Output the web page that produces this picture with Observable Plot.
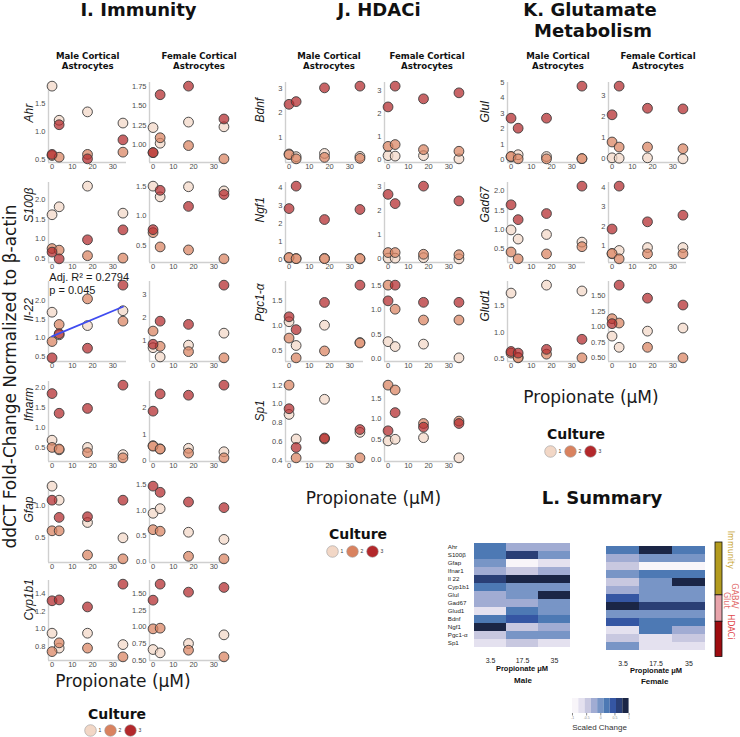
<!DOCTYPE html>
<html><head><meta charset="utf-8">
<script src="https://cdn.jsdelivr.net/npm/d3@7"></script>
<script src="https://cdn.jsdelivr.net/npm/@observablehq/plot@0.6"></script>
<style>
body{margin:0;background:#fff;}
#root{position:relative;width:740px;height:737px;overflow:hidden;background:#fff;}
</style></head><body><div id="root"></div>
<script>
// ---------------- DATA ----------------
const doses = [0, 3.5, 17.5, 35];
const cultures = ["1", "2", "3"];
const doseTicks = ["0", "10", "20", "30"];
// each gene: [culture1, culture2, culture3], values at doses 0, 3.5, 17.5, 35 µM

// I. Immunity
const ahrMale = [[1.82,1.21,1.36,1.16],[0.58,0.55,0.60,0.64],[0.60,1.13,0.52,0.86]];
const ahrFemale = [[1.22,1.02,1.29,1.23],[0.90,1.09,0.99,0.82],[0.90,1.64,1.75,1.33]];
const s100bMale = [[1.61,1.81,2.33,1.65],[0.76,0.72,0.58,0.52],[0.67,0.50,0.98,1.23]];
const s100bFemale = [[1.50,1.32,1.49,1.42],[0.72,0.48,0.43,0.28],[0.77,1.43,1.16,1.36]];
const il22Male = [[1.69,1.08,1.33,1.73],[0.90,1.36,2.05,1.45],[0.46,1.11,0.72,2.42]];
const il22Female = [[0.71,0.31,0.82,1.34],[1.43,0.77,0.54,0.27],[0.86,1.86,1.72,3.42]];
const ifnarmMale = [[0.68,0.44,0.50,0.32],[0.50,0.46,0.37,0.24],[1.84,1.35,1.47,2.05]];
const ifnarmFemale = [[0.57,0.45,0.47,0.34],[0.55,0.44,0.29,0.11],[1.87,2.52,2.47,2.85]];
const gfapMale = [[1.31,1.09,0.74,0.50],[0.61,0.61,0.23,0.17],[1.09,0.82,0.83,1.09]];
const gfapFemale = [[0.94,1.03,0.57,0.43],[0.62,0.59,0.10,0.05],[1.47,1.35,1.16,1.05]];
const cyp1b1Male = [[0.95,0.78,0.95,0.82],[0.74,0.84,0.78,0.68],[1.32,1.33,1.25,1.51]];
const cyp1b1Female = [[0.66,0.61,0.75,0.88],[0.97,0.98,0.65,0.55],[1.40,1.64,1.52,1.59]];
// J. HDACi
const bdnfMale = [[0.33,0.22,0.35,0.23],[0.30,0.13,0.19,0.15],[2.35,2.46,3.02,3.09]];
const bdnfFemale = [[0.18,0.16,0.18,0.04],[0.58,0.66,0.44,0.37],[2.29,3.19,2.64,2.90]];
const ngf1Male = [[0.10,0.07,0.08,0.05],[0.13,0.06,0.06,0.07],[2.85,4.10,2.24,2.80]];
const ngf1Female = [[0.03,0.03,0.05,0.00],[0.26,0.26,0.19,0.17],[2.66,2.28,3.00,2.39]];
const pgc1aMale = [[1.08,0.60,1.01,0.66],[0.75,0.35,0.49,0.65],[1.18,0.92,1.47,1.82]];
const pgc1aFemale = [[0.35,0.25,0.30,0.02],[1.50,1.01,0.79,0.79],[1.18,1.50,1.15,1.15]];
const sp1Male = [[0.89,0.63,1.05,0.70],[1.20,0.43,0.63,0.43],[0.95,0.54,0.64,0.73]];
const sp1Female = [[0.46,0.50,0.54,0.04],[1.84,1.72,0.89,0.95],[0.71,1.16,0.80,0.89]];
// K. Glutamate metabolism
const glulMale = [[0.18,0.32,0.20,0.06],[0.21,0.05,0.05,0.07],[2.69,2.04,2.69,4.77]];
const glulFemale = [[0.05,0.03,0.05,0.00],[0.80,0.56,0.56,0.48],[2.09,3.45,2.40,2.37]];
const gad67Male = [[0.98,0.74,0.86,0.66],[0.40,0.22,0.35,0.54],[1.64,1.25,1.41,2.13]];
const gad67Female = [[0.58,0.75,0.90,0.90],[0.60,0.32,0.58,0.58],[1.85,4.05,2.22,2.56]];
const glud1Male = [[1.74,0.53,1.89,1.78],[0.61,0.52,0.59,0.52],[0.64,0.61,0.68,0.87]];
const glud1Female = [[0.85,0.67,0.93,0.98],[1.13,1.06,0.67,0.50],[1.05,1.67,1.46,1.35]];

// y tick labels
const ahrMaleTicks = ["0.5","1.0","1.5"];
const ahrFemaleTicks = ["1.00","1.25","1.50","1.75"];
const s100bMaleTicks = ["0.5","1.0","1.5","2.0"];
const s100bFemaleTicks = ["0.5","1.0","1.5"];
const il22MaleTicks = ["0.5","1.0","1.5","2.0"];
const il22FemaleTicks = ["1","2","3"];
const ifnarmMaleTicks = ["0.5","1.0","1.5","2.0"];
const ifnarmFemaleTicks = ["0","1","2","3"];
const gfapMaleTicks = ["0.5","1.0"];
const gfapFemaleTicks = ["0.0","0.5","1.0","1.5"];
const cyp1b1MaleTicks = ["0.8","1.0","1.2","1.4"];
const cyp1b1FemaleTicks = ["0.50","0.75","1.00","1.25","1.50"];
const bdnfMaleTicks = ["1","2","3"];
const bdnfFemaleTicks = ["0","1","2","3"];
const ngf1MaleTicks = ["0","1","2","3","4"];
const ngf1FemaleTicks = ["0","1","2","3"];
const pgc1aMaleTicks = ["0.5","1.0","1.5"];
const pgc1aFemaleTicks = ["0.0","0.5","1.0","1.5"];
const sp1MaleTicks = ["0.4","0.6","0.8","1.0","1.2"];
const sp1FemaleTicks = ["0.0","0.5","1.0","1.5"];
const glulMaleTicks = ["0","1","2","3","4","5"];
const glulFemaleTicks = ["0","1","2","3"];
const gad67MaleTicks = ["0.5","1.0","1.5","2.0"];
const gad67FemaleTicks = ["1","2","3","4"];
const glud1MaleTicks = ["0.5","1.0","1.5"];
const glud1FemaleTicks = ["0.50","0.75","1.00","1.25","1.50"];

const fitNote = ["Adj. R\u00b2 = 0.2794", "p = 0.045"];

// L. Summary heatmap (scaled change level 1..9)
const summaryGenes = ["Ahr","S100\u03b2","Gfap","Ifnar1","Il 22","Cyp1b1","Glul","Gad67","Glud1","Bdnf","Ngf1","Pgc1-\u03b1","Sp1"];
const summaryDoses = ["3.5","17.5","35"];
const maleLevels = [[6,4,4],[6,8,5],[5,1,2],[4,3,4],[8,9,9],[6,5,5],[4,5,9],[4,4,5],[2,6,5],[6,7,6],[9,3,4],[3,5,5],[2,3,2]];
const femaleLevels = [[6,9,6],[4,5,5],[3,1,1],[5,6,6],[3,5,9],[4,5,5],[7,5,5],[9,8,8],[5,5,5],[7,6,6],[2,6,4],[3,2,3],[5,2,2]];
const scaleLevels = [1,2,3,4,5,6,7,8,9];
const scaleTickLabels = ["-1","-0.5","0","0.5","1"];
const groupNames = ["Immunity","GABA/\nGlut","HDACi"];
const groupSizes = [6,3,4];

// ---------------- STYLE ----------------
const cultureFill = ["#f2d7c6", "#d9825f", "#b3282b"];
const blues = ["#f8f5f9","#e4e1ef","#c8c8e0","#a1acd3","#7895c6","#4d79b4","#3556a3","#2a3f76","#1b2646"];
const groupFill = ["#b39b1f","#e8a4ab","#9e0c10"];
const groupText = ["#c9a634","#e26a6a","#e04a4c"];
const AXIS_COLOR = "#cfcfcf";
const SANS = "'Liberation Sans', Arial, sans-serif";
const VERD = "'DejaVu Sans', Verdana, sans-serif";

const root = document.getElementById("root");
function place(el, left, top) {
  el.style.position = "absolute";
  el.style.left = left + "px";
  el.style.top = top + "px";
  root.appendChild(el);
}

// ---------------- SCATTER PANELS ----------------
const AXX = {imm: [48, 149], hd: [285, 384], gl: [507, 608]};
const ROWB = [162, 261.5, 361, 460.5, 562, 660];
const LABEL_DX = {imm: -19.5, hd: -25, gl: -22};
const FW = 78, FH = 80, ML = 40, MR = 8, MT = 6, MB = 14;

const panels = [
  {col:"imm", row:0, gene:"Ahr", m: ahrMale, mt: ahrMaleTicks, f: ahrFemale, ft: ahrFemaleTicks},
  {col:"imm", row:1, gene:"S100\u03b2", m: s100bMale, mt: s100bMaleTicks, f: s100bFemale, ft: s100bFemaleTicks},
  {col:"imm", row:2, gene:"Il-22", m: il22Male, mt: il22MaleTicks, f: il22Female, ft: il22FemaleTicks, fitMale: true},
  {col:"imm", row:3, gene:"Ifnarm", m: ifnarmMale, mt: ifnarmMaleTicks, f: ifnarmFemale, ft: ifnarmFemaleTicks},
  {col:"imm", row:4, gene:"Gfap", m: gfapMale, mt: gfapMaleTicks, f: gfapFemale, ft: gfapFemaleTicks},
  {col:"imm", row:5, gene:"Cyp1b1", m: cyp1b1Male, mt: cyp1b1MaleTicks, f: cyp1b1Female, ft: cyp1b1FemaleTicks},
  {col:"hd", row:0, gene:"Bdnf", m: bdnfMale, mt: bdnfMaleTicks, f: bdnfFemale, ft: bdnfFemaleTicks},
  {col:"hd", row:1, gene:"Ngf1", m: ngf1Male, mt: ngf1MaleTicks, f: ngf1Female, ft: ngf1FemaleTicks},
  {col:"hd", row:2, gene:"Pgc1-\u03b1", m: pgc1aMale, mt: pgc1aMaleTicks, f: pgc1aFemale, ft: pgc1aFemaleTicks},
  {col:"hd", row:3, gene:"Sp1", m: sp1Male, mt: sp1MaleTicks, f: sp1Female, ft: sp1FemaleTicks},
  {col:"gl", row:0, gene:"Glul", m: glulMale, mt: glulMaleTicks, f: glulFemale, ft: glulFemaleTicks},
  {col:"gl", row:1, gene:"Gad67", m: gad67Male, mt: gad67MaleTicks, f: gad67Female, ft: gad67FemaleTicks},
  {col:"gl", row:2, gene:"Glud1", m: glud1Male, mt: glud1MaleTicks, f: glud1Female, ft: glud1FemaleTicks}
];

function scatter(values, ticks, gene, col, fit) {
  const rows = values.flatMap((arr, ci) => arr.map((v, di) => ({dose: doses[di], culture: cultures[ci], value: v})));
  const [y0, y1] = d3.extent(rows, d => d.value);
  const yPad = (y1 - y0) * 0.05;
  const yDom = [y0 - yPad, y1 + yPad];
  const [x0, x1] = d3.extent(doses);
  const xPad = (x1 - x0) * 0.05;
  const xDom = [x0 - xPad, x1 + xPad];
  const labelOf = new Map(ticks.map(s => [+s, s]));
  const yTicks = ticks.map(Number).filter(t => t >= yDom[0] && t <= yDom[1]);
  const marks = [
    Plot.ruleX([xDom[0]], {stroke: AXIS_COLOR, strokeWidth: 1.4}),
    Plot.ruleY([yDom[0]], {stroke: AXIS_COLOR, strokeWidth: 1.4}),
    Plot.dot(rows, {x: "dose", y: "value", fill: "culture", fillOpacity: 0.72, stroke: "#3c3c3c", strokeWidth: 0.9, r: 4.9})
  ];
  if (fit) marks.push(Plot.linearRegressionY(rows, {x: "dose", y: "value", stroke: "#3f4cf0", strokeWidth: 1.8, ci: 0}));
  if (gene) marks.push(Plot.text([gene], {text: d => d, frameAnchor: "left", rotate: -90, dx: LABEL_DX[col],
    fontSize: 12, fontStyle: "italic", fontFamily: SANS, fill: "#1a1a1a"}));
  return Plot.plot({
    width: ML + FW + MR, height: MT + FH + MB,
    marginLeft: ML, marginRight: MR, marginTop: MT, marginBottom: MB,
    style: {background: "transparent", overflow: "visible", fontFamily: SANS, fontSize: "7.5px", color: "#4d4d4d"},
    x: {domain: xDom, ticks: doseTicks.map(Number), tickFormat: d => String(d), tickSize: 0, tickPadding: 1.5, label: null},
    y: {domain: yDom, ticks: yTicks, tickFormat: d => labelOf.get(d), tickSize: 0, tickPadding: 3, label: null},
    color: {type: "ordinal", domain: cultures, range: cultureFill},
    marks
  });
}

for (const p of panels) {
  const top = ROWB[p.row] - FH - MT;
  place(scatter(p.m, p.mt, p.gene, p.col, p.fitMale), AXX[p.col][0] - ML, top);
  place(scatter(p.f, p.ft, null, p.col, false), AXX[p.col][1] - ML, top);
}

// ---------------- CULTURE LEGENDS ----------------
function cultureLegend(cx0, cy) {
  const svg = Plot.plot({
    width: 8 + 40 + 16, height: 16, marginLeft: 8, marginRight: 16, marginTop: 8, marginBottom: 8,
    style: {background: "transparent", overflow: "visible", fontFamily: SANS, fontSize: "5px", color: "#333"},
    x: {type: "point", domain: cultures, padding: 0, axis: null},
    color: {type: "ordinal", domain: cultures, range: cultureFill},
    marks: [
      Plot.dot(cultures, {x: d => d, fill: d => d, r: 5.8, stroke: "#9a9a9a", strokeWidth: 0.6}),
      Plot.text(cultures, {x: d => d, text: d => d, dx: 9.5, fontSize: 5, fill: "#333"})
    ]
  });
  place(svg, cx0 - 8, cy - 8);
}
cultureLegend(90, 730);
cultureLegend(331.7, 551);
cultureLegend(549.7, 451);

// ---------------- HEATMAPS ----------------
function heatmap(levels, frameLeft, frameTop, frameW, frameH, withLabels) {
  const cells = levels.flatMap((row, gi) => row.map((lv, di) => ({gene: summaryGenes[gi], dose: summaryDoses[di], level: lv})));
  const hl = withLabels ? 31.7 : 2;
  const marks = [Plot.cell(cells, {x: "dose", y: "gene", fill: "level"})];
  if (withLabels) marks.push(Plot.text(summaryGenes, {y: d => d, text: d => d, frameAnchor: "left", textAnchor: "start",
    dx: -25.4, fontSize: 6.2, fill: "#222"}));
  const svg = Plot.plot({
    width: hl + frameW + 2, height: frameH + 14, marginLeft: hl, marginRight: 2, marginTop: 0, marginBottom: 14,
    style: {background: "transparent", overflow: "visible", fontFamily: SANS, fontSize: "7px", color: "#222"},
    x: {type: "band", domain: summaryDoses, padding: 0, tickSize: 0, tickPadding: 5, label: null},
    y: {type: "band", domain: summaryGenes, padding: 0, axis: null},
    color: {type: "ordinal", domain: scaleLevels, range: blues},
    marks
  });
  place(svg, frameLeft - hl, frameTop);
}
heatmap(maleLevels, 472.7, 538.3, 98.3, 114.4, true);
heatmap(femaleLevels, 606, 540.5, 99, 114.5, false);

// group side bar
{
  let acc = 0;
  const groups = groupNames.map((name, i) => { const g = {name, start: acc, end: acc + groupSizes[i]}; acc += groupSizes[i]; return g; });
  const total = acc;
  const marks = [Plot.rect(groups, {y1: "start", y2: "end", fill: "name", stroke: "#111", strokeWidth: 0.8})];
  groups.forEach((g, i) => marks.push(Plot.text([g], {y: d => (d.start + d.end) / 2, text: "name", frameAnchor: "right",
    rotate: 90, dx: 8, fontSize: 8, lineHeight: 1.05, fill: groupText[i], fontFamily: VERD})));
  const svg = Plot.plot({
    width: 7 + 26, height: 114.5, marginLeft: 0, marginRight: 26, marginTop: 0, marginBottom: 0,
    style: {background: "transparent", overflow: "visible", fontFamily: VERD},
    x: {domain: [0, 1], axis: null},
    y: {domain: [0, total], reverse: true, axis: null},
    color: {type: "ordinal", domain: groupNames, range: groupFill},
    marks
  });
  place(svg, 715, 541.5);
}

// scaled change legend
{
  const lo = +scaleTickLabels[0], hi = +scaleTickLabels[scaleTickLabels.length - 1];
  const step = (hi - lo) / scaleLevels.length;
  const bins = scaleLevels.map((lv, i) => ({lv, x1: lo + i * step, x2: lo + (i + 1) * step}));
  const labelOf = new Map(scaleTickLabels.map(s => [+s, s]));
  const svg = Plot.plot({
    width: 56.6, height: 15 + 9, marginLeft: 0, marginRight: 0, marginTop: 0, marginBottom: 9,
    style: {background: "transparent", overflow: "visible", fontFamily: SANS, fontSize: "3.5px", color: "#888"},
    x: {domain: [lo, hi], ticks: scaleTickLabels.map(Number), tickFormat: d => labelOf.get(d), tickSize: 2.5, tickPadding: 1, label: null},
    y: {axis: null},
    color: {type: "ordinal", domain: scaleLevels, range: blues},
    marks: [Plot.rect(bins, {x1: "x1", x2: "x2", fill: "lv"})]
  });
  place(svg, 571.7, 698.3);
}

// ---------------- TEXT OVERLAY ----------------
const ns = "http://www.w3.org/2000/svg";
const ov = document.createElementNS(ns, "svg");
ov.setAttribute("width", 740); ov.setAttribute("height", 737);
ov.style.cssText = "position:absolute;left:0;top:0;pointer-events:none;overflow:visible";
root.appendChild(ov);
function T(x, y, str, o = {}) {
  const t = document.createElementNS(ns, "text");
  t.setAttribute("x", o.rot ? 0 : x); t.setAttribute("y", o.rot ? 0 : y);
  if (o.rot) t.setAttribute("transform", `translate(${x},${y}) rotate(${o.rot})`);
  t.setAttribute("text-anchor", o.anchor || "middle");
  t.setAttribute("font-family", o.family || VERD);
  t.setAttribute("font-size", o.size || 10);
  t.setAttribute("font-weight", o.weight || "normal");
  t.setAttribute("fill", o.fill || "#111");
  t.textContent = str;
  ov.appendChild(t);
}
const B = {size: 18, weight: "bold"};
T(138.5, 16, "I. Immunity", B);
T(379, 16, "J. HDACi", B);
T(590, 16, "K. Glutamate", B);
T(593, 37, "Metabolism", B);
T(602, 504, "L. Summary", B);
const H = {size: 8.6, weight: "bold"};
[[87.7, "Male"], [199, "Female"], [329, "Male"], [427, "Female"], [558, "Male"], [658, "Female"]].forEach(([cx, s]) => {
  T(cx, 59, s + " Cortical", H);
  T(cx, 69, "Astrocytes", H);
});
T(16, 376.5, "ddCT Fold-Change Normalized to \u03b2-actin", {size: 17, rot: -90, fill: "#1a1a1a"});
T(123, 686.5, "Propionate (\u03bcM)", {size: 17, fill: "#1a1a1a"});
T(373.5, 504, "Propionate (\u03bcM)", {size: 17, fill: "#1a1a1a"});
T(591, 403, "Propionate (\u03bcM)", {size: 17, fill: "#1a1a1a"});
T(117, 719, "Culture", {size: 14, weight: "bold"});
T(358, 539, "Culture", {size: 14, weight: "bold"});
T(576, 439, "Culture", {size: 14, weight: "bold"});
T(49.3, 281, fitNote[0], {size: 11, family: SANS, anchor: "start", fill: "#1a1a1a"});
T(49.3, 294, fitNote[1], {size: 11, family: SANS, anchor: "start", fill: "#1a1a1a"});
T(522, 670.5, "Propionate \u03bcM", {size: 7.5, weight: "bold", family: SANS});
T(656, 672.5, "Propionate \u03bcM", {size: 7.5, weight: "bold", family: SANS});
T(523, 683, "Male", {size: 8, weight: "bold", family: SANS});
T(654.7, 684, "Female", {size: 8, weight: "bold", family: SANS});
T(599.5, 730, "Scaled Change", {size: 8, family: SANS, fill: "#333"});
</script></body></html>
